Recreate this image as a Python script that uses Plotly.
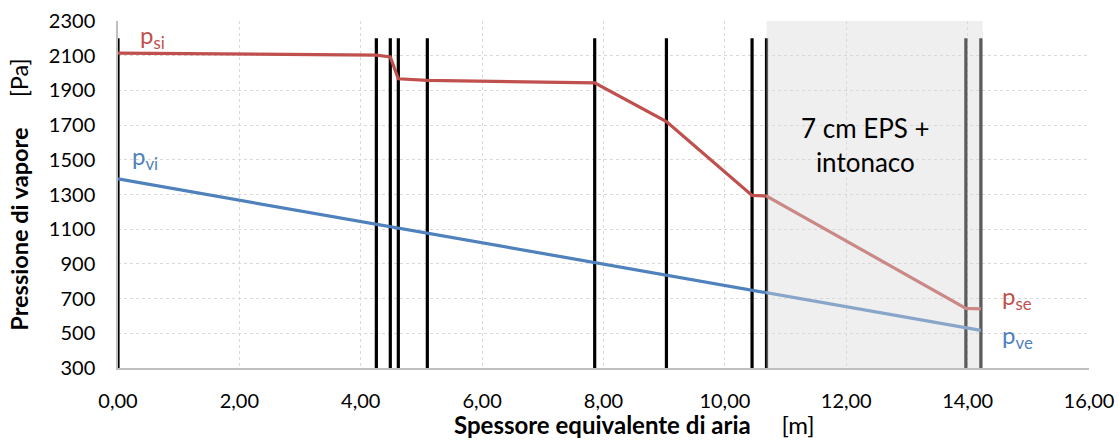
import plotly.graph_objects as go

# Interfaces between layers, expressed as equivalent air thickness sd [m]
sd = [0.00, 4.257, 4.487, 4.619, 5.097, 7.855, 9.037, 10.448, 10.686, 13.971, 14.218]
# Saturation vapour pressure at each interface [Pa]
p_sat = [2115, 2103, 2093, 1967, 1958, 1943, 1720, 1295, 1291, 644, 641]
# Actual vapour pressure at each interface [Pa]
p_vap = [1390, 1128, 1114, 1106, 1076, 907, 834, 747, 733, 530, 517]

# Layer boundaries are drawn from the bottom of the axis up to this pressure
boundary_top = 2200
y_min, y_max = 300, 2300
x_min, x_max = 0, 16

# Insulation block (EPS + plaster) highlighted with a translucent band
eps_span = [10.686, 14.25]

font_family = "Lato, 'Open Sans', sans-serif"
red = "#C0504D"
blue = "#4F81BD"
gap = "&nbsp;" * 5

fig = go.Figure()

# Layer boundaries: one trace, segments separated by None
bx, by = [], []
for x in sd:
    bx += [x, x, None]
    by += [y_min, boundary_top, None]
fig.add_trace(go.Scatter(x=bx, y=by, mode="lines",
                         line=dict(color="black", width=3.2),
                         hoverinfo="skip", showlegend=False))

fig.add_trace(go.Scatter(x=sd, y=p_sat, mode="lines",
                         line=dict(color=red, width=3.2),
                         name="ps", showlegend=False))
fig.add_trace(go.Scatter(x=sd, y=p_vap, mode="lines",
                         line=dict(color=blue, width=3.2),
                         name="pv", showlegend=False))

# Translucent grey over the insulation layers (lightens everything beneath)
fig.add_shape(type="rect", xref="x", yref="y",
              x0=eps_span[0], x1=eps_span[1], y0=y_min, y1=y_max,
              fillcolor="rgba(217,217,217,0.42)", line=dict(width=0),
              layer="above")


def label(x, y, text, color, size=24, **kw):
    fig.add_annotation(x=x, y=y, text=text, showarrow=False, xref="x", yref="y",
                       font=dict(family=font_family, size=size, color=color), **kw)


label(0.33, 2212, "p<sub>si</sub>", red, xanchor="left")
label(0.2, 1512, "p<sub>vi</sub>", blue, xanchor="left")
label(14.53, 705, "p<sub>se</sub>", red, xanchor="left")
label(14.53, 483, "p<sub>ve</sub>", blue, xanchor="left")
label(12.32, 1585, "7 cm EPS +<br>intonaco", "black", size=26,
      xanchor="center", yanchor="middle")

# Horizontal axis title, placed a little right of the plot centre
fig.add_annotation(x=0.532, y=-0.162, xref="paper", yref="paper",
                   text="<b>Spessore equivalente di aria</b>" + gap + "[m]",
                   showarrow=False, xanchor="center", yanchor="middle",
                   font=dict(family=font_family, size=24, color="black"))

grid = dict(showgrid=True, gridcolor="#d9d9d9", griddash="dot", gridwidth=1)
hidden_ticks = dict(ticks="outside", tickcolor="rgba(0,0,0,0)")

fig.update_layout(
    width=1119, height=441,
    margin=dict(l=118, r=30, t=21, b=73),
    paper_bgcolor="white", plot_bgcolor="white",
    separators=",.",
    font=dict(family=font_family, size=20, color="black"),
    xaxis=dict(range=[x_min, x_max], dtick=2, tick0=0, tickformat=".2f",
               showline=True, linecolor="#bfbfbf", linewidth=1.5,
               zeroline=False, ticklen=14, automargin=False,
               **hidden_ticks, **grid),
    yaxis=dict(range=[y_min, y_max], dtick=200, tick0=300,
               showline=True, linecolor="#bfbfbf", linewidth=1.5,
               zeroline=False, ticklen=17, automargin=False,
               title=dict(text="<b>Pressione di vapore</b>" + gap + "[Pa]",
                          font=dict(size=23.5), standoff=14),
               **hidden_ticks, **grid),
)

fig.write_html("out.html")
